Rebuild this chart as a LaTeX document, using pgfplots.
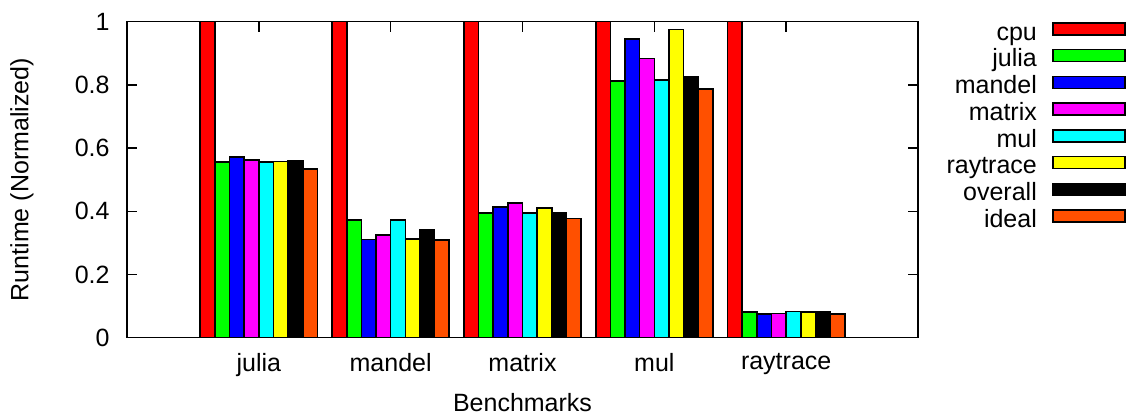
\documentclass[border=0pt]{standalone}
\usepackage{pgfplots}
\usepackage{pgfplotstable}
\pgfplotsset{compat=1.18}
\usepackage{fontspec}
\setmainfont{Liberation Sans}
\definecolor{cRed}{RGB}{255,0,0}
\definecolor{cGreen}{RGB}{0,255,0}
\definecolor{cBlue}{RGB}{0,0,255}
\definecolor{cMagenta}{RGB}{255,0,255}
\definecolor{cCyan}{RGB}{0,255,255}
\definecolor{cYellow}{RGB}{255,255,0}
\definecolor{cOrange}{RGB}{255,80,0}
\pgfplotstableread{
bench    cpu   julia  mandel matrix mul   raytrace overall ideal
julia    1.0   0.556  0.572  0.562  0.556 0.558    0.560   0.534
mandel   1.0   0.372  0.311  0.325  0.372 0.313    0.343   0.310
matrix   1.0   0.395  0.413  0.426  0.395 0.411    0.394   0.377
mul      1.0   0.812  0.946  0.883  0.815 0.975    0.827   0.787
raytrace 1.0   0.082  0.075  0.076  0.083 0.082    0.083   0.075
}\data
\begin{document}
\begin{tikzpicture}
\begin{axis}[
  scale only axis,
  width=395.5pt, height=158pt,
  xmin=-1, xmax=5, ymin=0, ymax=1,
  xtick={0,1,2,3,4},
  xticklabels={julia,mandel,matrix,mul,raytrace},
  ytick={0,0.2,0.4,0.6,0.8,1},
  yticklabels={0,0.2,0.4,0.6,0.8,1},
  tick align=inside,
  major tick length=5pt,
  tick style={black, line width=0.7pt},
  axis line style={black, line width=0.7pt},
  font=\fontsize{12.5pt}{14pt}\selectfont,
  yticklabel style={inner sep=0pt, anchor=east, xshift=-8.5pt},
  xticklabel style={inner sep=0pt, anchor=north, yshift=-7.5pt},
  xlabel={Benchmarks},
  ylabel={Runtime (Normalized)},
  xlabel style={at={(axis description cs:0.5,-0.2342)}, anchor=base, inner sep=0pt},
  ylabel style={at={(axis description cs:-0.1328,0.5)}, anchor=center, inner sep=0pt},
  bar width=0.1111,
  mybar/.style={ybar, bar shift=0pt, draw=black, line width=0.8pt, fill=#1},
  legend plot pos=right,
  legend cell align=right,
  legend style={draw=none, fill=none, at={(axis description cs:1.2630,1.0)}, anchor=north east,
    inner sep=0pt, row sep=0pt,
    nodes={inner sep=0pt, text height=9pt, text depth=4.35pt}},
  legend image code/.code={\path[draw=none, fill=none] (0pt,0pt) rectangle (1pt,1pt); \draw[#1, draw=black, line width=0.8pt] (8pt,0.3pt) rectangle (44pt,6.3pt);},
]
\addplot[mybar=cRed]     table[x expr=\coordindex-0.38889, y=cpu]      \data;
\addplot[mybar=cGreen]   table[x expr=\coordindex-0.27778, y=julia]    \data;
\addplot[mybar=cBlue]    table[x expr=\coordindex-0.16667, y=mandel]   \data;
\addplot[mybar=cMagenta] table[x expr=\coordindex-0.05556, y=matrix]   \data;
\addplot[mybar=cCyan]    table[x expr=\coordindex+0.05556, y=mul]      \data;
\addplot[mybar=cYellow]  table[x expr=\coordindex+0.16667, y=raytrace] \data;
\addplot[mybar=black]    table[x expr=\coordindex+0.27778, y=overall]  \data;
\addplot[mybar=cOrange]  table[x expr=\coordindex+0.38889, y=ideal]    \data;
\legend{cpu,julia,mandel,matrix,mul,raytrace,overall,ideal}
\coordinate (bbBL) at (rel axis cs:-0.16056,-0.25095);
\coordinate (bbTR) at (rel axis cs:1.27181,1.06867);
\end{axis}
\path (bbBL) rectangle (bbTR);
\end{tikzpicture}
\end{document}
